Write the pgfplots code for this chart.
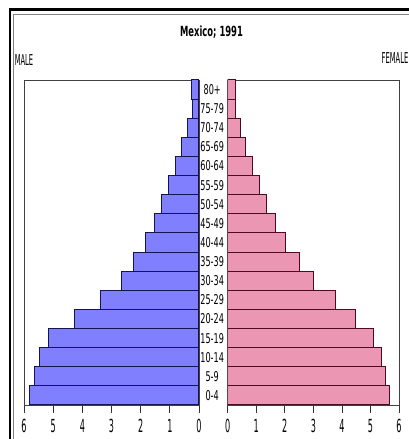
\documentclass[border=0pt]{standalone}
\usepackage{fontspec}
\setmainfont{DejaVu Sans}[FakeStretch=0.6]
\newfontfamily\narrowfont{DejaVu Sans}[FakeStretch=0.45]
\usepackage{pgfplots}
\pgfplotsset{compat=1.18}
\usepackage{pgfplotstable}

\definecolor{maleblue}{RGB}{128,128,255}
\definecolor{maleedge}{RGB}{20,20,80}
\definecolor{femalepink}{RGB}{235,150,178}
\definecolor{femaleedge}{RGB}{80,10,30}

% share of population in %, age groups 0-4 ... 80+
\pgfplotstableread{
idx male female
0 5.82 5.66
1 5.63 5.52
2 5.47 5.39
3 5.16 5.12
4 4.26 4.46
5 3.39 3.76
6 2.65 3.00
7 2.25 2.53
8 1.85 2.03
9 1.53 1.69
10 1.28 1.37
11 1.03 1.13
12 0.82 0.87
13 0.59 0.64
14 0.40 0.45
15 0.23 0.29
16 0.25 0.29
}\pyramid

\pgfplotsset{
  pyr/.style={
    scale only axis,
    height=325pt,
    anchor=south west,
    xbar,
    bar width=1,
    xmin=0, xmax=6,
    ymin=-0.5, ymax=16.5,
    xtick={0,...,6},
    xtick pos=lower,
    tick align=outside,
    major tick length=8pt,
    every tick/.style={black!80, line width=0.8pt},
    axis line style={black!75, line width=0.8pt},
    /pgf/number format/assume math mode=true,
    xticklabel style={font=\narrowfont\fontsize{18}{18}\selectfont, anchor=center, yshift=-13pt},
  },
}

\begin{document}
\begin{tikzpicture}
\useasboundingbox (0,0) rectangle (409pt,439pt);
\draw[line width=2.5pt] (10pt,0pt) -- (10pt,429.5pt) -- (409pt,429.5pt);
\draw[gray, line width=1pt] (13.5pt,0pt) -- (13.5pt,424pt) -- (409pt,424pt);

\node at (211.5pt,407pt) {\fontsize{14}{14}\selectfont\bfseries Mexico; 1991};
\node at (24pt,379pt) {\narrowfont\fontsize{15}{15}\selectfont MALE};
\node at (395pt,381pt) {\narrowfont\fontsize{15}{15}\selectfont FEMALE};

\begin{axis}[pyr,
    at={(24pt,34pt)},
    width=175pt,
    x dir=reverse,
    ytick=\empty,
  ]
  \addplot[fill=maleblue, draw=maleedge, line width=1pt] table[x=male, y=idx] {\pyramid};
\end{axis}

\begin{axis}[pyr,
    at={(227.7pt,34pt)},
    width=171.3pt,
    ytick={0,...,16},
    yticklabels={0-4,5-9,10-14,15-19,20-24,25-29,30-34,35-39,40-44,45-49,50-54,55-59,60-64,65-69,70-74,75-79,80+},
    ytick style={draw=none},
    yticklabel style={anchor=center, xshift=-7.5pt, font=\fontsize{13.5}{13.5}\selectfont},
  ]
  \addplot[fill=femalepink, draw=femaleedge, line width=1pt] table[x=female, y=idx] {\pyramid};
\end{axis}
\end{tikzpicture}
\end{document}
